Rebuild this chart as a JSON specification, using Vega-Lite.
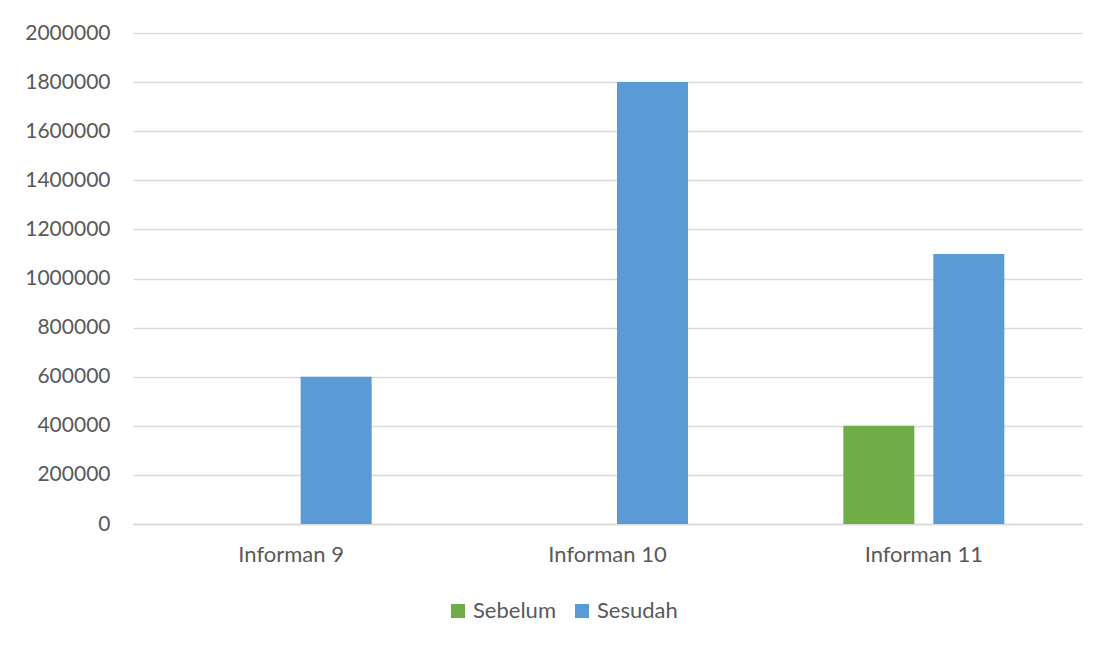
{
  "$schema": "https://vega.github.io/schema/vega-lite/v6.json",
  "autosize": "none",
  "width": 949,
  "height": 491,
  "padding": {"left": 133, "top": 33, "right": 21, "bottom": 121},
  "background": "white",
  "data": {
    "values": [
      {"informan": "Informan 9", "periode": "Sebelum", "nilai": 0},
      {"informan": "Informan 9", "periode": "Sesudah", "nilai": 600000},
      {"informan": "Informan 10", "periode": "Sebelum", "nilai": 0},
      {"informan": "Informan 10", "periode": "Sesudah", "nilai": 1800000},
      {"informan": "Informan 11", "periode": "Sebelum", "nilai": 400000},
      {"informan": "Informan 11", "periode": "Sesudah", "nilai": 1100000}
    ]
  },
  "mark": {"type": "bar"},
  "encoding": {
    "x": {
      "field": "informan",
      "type": "nominal",
      "sort": null,
      "scale": {"paddingInner": 0, "paddingOuter": 0},
      "axis": {
        "title": null,
        "labelAngle": 0,
        "ticks": false,
        "labelPadding": 20,
        "labelFontSize": 22,
        "domainColor": "#d9d9d9",
        "domainWidth": 1.5
      }
    },
    "xOffset": {
      "field": "periode",
      "type": "nominal",
      "sort": ["Sebelum", "Sesudah"],
      "scale": {"paddingInner": 0.211, "paddingOuter": 0.863}
    },
    "y": {
      "field": "nilai",
      "type": "quantitative",
      "scale": {"domain": [0, 2000000], "nice": false},
      "axis": {
        "title": null,
        "format": "d",
        "values": [0, 200000, 400000, 600000, 800000, 1000000, 1200000, 1400000, 1600000, 1800000, 2000000],
        "ticks": false,
        "domain": false,
        "labelPadding": 23,
        "labelFontSize": 21,
        "gridColor": "#d9d9d9",
        "gridWidth": 1.5
      }
    },
    "color": {
      "field": "periode",
      "type": "nominal",
      "scale": {"domain": ["Sebelum", "Sesudah"], "range": ["#70AD47", "#5B9BD5"]},
      "legend": {
        "title": null,
        "orient": "none",
        "direction": "horizontal",
        "legendX": 314,
        "legendY": 567,
        "symbolType": "square",
        "symbolSize": 196,
        "symbolStrokeWidth": 0,
        "labelOffset": 4,
        "labelFontSize": 22,
        "columnPadding": 15
      }
    }
  },
  "config": {
    "view": {"stroke": null},
    "font": "Lato",
    "axis": {
      "labelFont": "Lato",
      "labelColor": "#595959"
    },
    "legend": {
      "labelFont": "Lato",
      "labelColor": "#595959"
    }
  }
}
